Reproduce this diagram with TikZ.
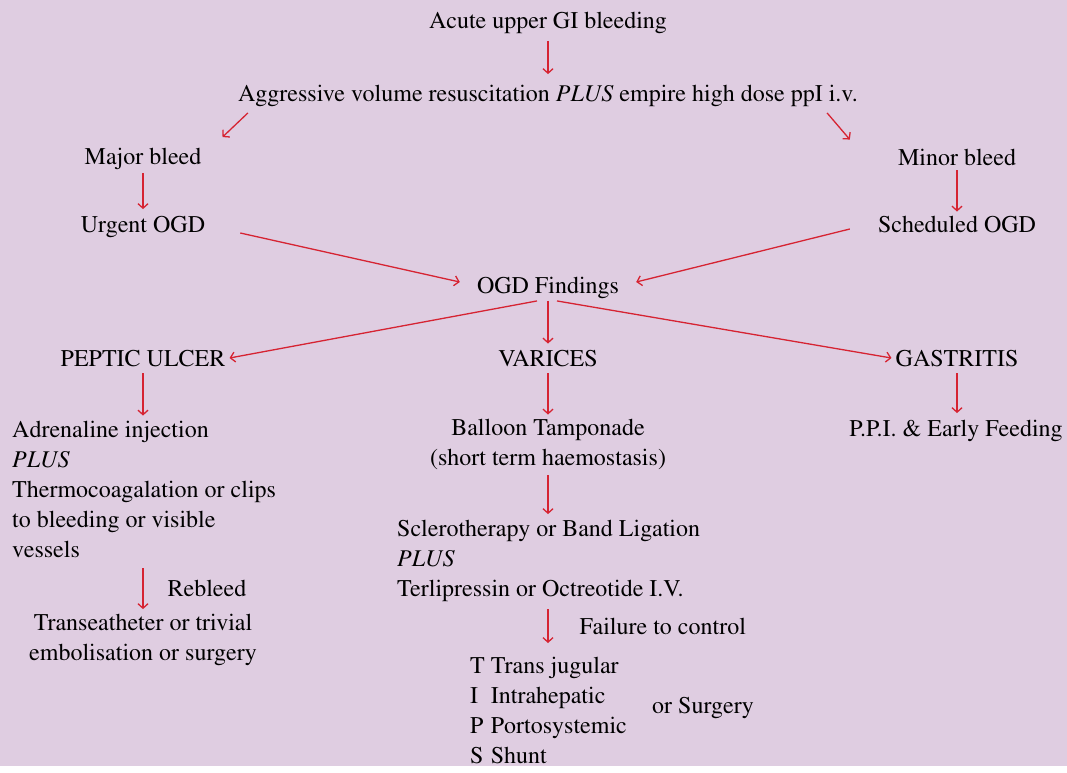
\documentclass[tikz,border=0pt]{standalone}
\usepackage[T1]{fontenc}
\usepackage{mathptmx}
\usetikzlibrary{arrows.meta}
\definecolor{lilac}{RGB}{223,205,225}
\definecolor{arrred}{RGB}{214,35,50}
\tikzset{
  lbl/.style={inner sep=0pt, font=\fontsize{24}{30}\selectfont},
  blk/.style={lbl, align=left, anchor=west},
  arr/.style={draw=arrred, line width=1.3pt, -{Straight Barb[length=4.5pt,width=10pt]}},
}
\begin{document}
\begin{tikzpicture}[x=1pt,y=-1pt]
\fill[lilac] (0,0) rectangle (1067,766);
% top of the chart
\node[lbl] (acute) at (548,23) {Acute upper GI bleeding};
\node[lbl] (resus) at (548,96) {Aggressive volume resuscitation \textit{PLUS} empire high dose ppI i.v.};
\node[lbl] (major) at (143,159) {Major bleed};
\node[lbl] (minor) at (957,157) {Minor bleed};
\node[lbl] (urgent) at (143,227) {Urgent OGD};
\node[lbl] (sched) at (957,224) {Scheduled OGD};
\node[lbl] (find) at (548,288) {OGD Findings};
% three branches
\node[lbl] (peptic) at (143,358) {PEPTIC ULCER};
\node[lbl] (varices) at (548,358) {VARICES};
\node[lbl] (gastr) at (957,358) {GASTRITIS};
\node[blk] (adren) at (12,489) {Adrenaline injection\\\textit{PLUS}\\Thermocoagalation or clips\\to bleeding or visible\\vessels};
\node[lbl, align=center] (transe) at (143,640) {Transeatheter or trivial\\embolisation or surgery};
\node[lbl, align=center] (balloon) at (548,445) {Balloon Tamponade\\(short term haemostasis)};
\node[blk] (sclero) at (397,561) {Sclerotherapy or Band Ligation\\\textit{PLUS}\\Terlipressin or Octreotide I.V.};
\node[blk] (tips) at (470,712) {\begin{tabular}{@{}l@{\ }l@{}}T&Trans jugular\\I&Intrahepatic\\P&Portosystemic\\S&Shunt\end{tabular}};
\node[lbl] (surg) at (703,708) {or Surgery};
\node[lbl] (ppi) at (956,431) {P.P.I. \& Early Feeding};
% connectors
\draw[arr] ([yshift=-7pt]acute.south) -- ([yshift=11pt]resus.north);
\draw[arr] ([shift={(10pt,-6pt)}]resus.south west) -- ([shift={(21pt,11pt)}]major.north east);
\draw[arr] ([shift={(-31pt,-6pt)}]resus.south east) -- ([shift={(-48pt,9pt)}]minor.north west);
\draw[arr] ([yshift=-3pt]major.south) -- ([yshift=7pt]urgent.north);
\draw[arr] ([yshift=-5pt]minor.south) -- ([yshift=4pt]sched.north);
\draw[arr] ([shift={(35pt,-6pt)}]urgent.east) -- ([shift={(-17pt,6pt)}]find.west);
\draw[arr] ([shift={(-28pt,-5pt)}]sched.west) -- ([shift={(17pt,6pt)}]find.east);
\draw[arr] ([shift={(-11pt,-2pt)}]find.south) -- ([xshift=4pt]peptic.east);
\draw[arr] ([yshift=-2pt]find.south) -- ([yshift=6pt]varices.north);
\draw[arr] ([shift={(9pt,-2pt)}]find.south) -- ([xshift=-4pt]gastr.west);
\draw[arr] ([yshift=-7pt]peptic.south) -- ([yshift=5pt]peptic.south |- adren.north);
\draw[arr] ([yshift=-7pt]varices.south) -- ([yshift=5pt]balloon.north);
\draw[arr] ([yshift=-7pt]gastr.south) -- ([yshift=7pt]gastr.south |- ppi.north);
\draw[arr] ([yshift=-5pt]balloon.south) -- ([yshift=6pt]balloon.south |- sclero.north);
\draw[arr] (143,568) -- node[lbl, right=24pt] (rebleed) {Rebleed} ([yshift=5pt]transe.north);
\draw[arr] (548,609) -- node[lbl, right=31pt] (fail) {Failure to control} (548,643);
\end{tikzpicture}
\end{document}
